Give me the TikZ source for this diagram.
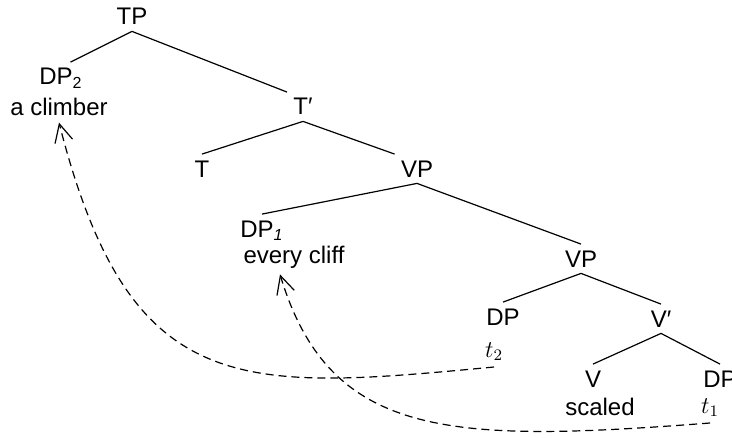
\documentclass[tikz,border=0pt]{standalone}
\usepackage{fontspec}
\setmainfont{Liberation Sans}
\usetikzlibrary{arrows.meta}

\begin{document}
\begin{tikzpicture}[
  x=0.5pt, y=-0.5pt,
  font=\fontsize{12}{14}\selectfont,
  n/.style={anchor=base, inner sep=3pt},
  e/.style={line width=0.6pt},
  mv/.style={line width=0.6pt, dash pattern=on 4pt off 2.5pt,
    -{Straight Barb[length=9pt,width=9pt]}}
]
\useasboundingbox (0,0) rectangle (732,438);
\clip (0,0) rectangle (732,438);

\node[n] (TP) at (132,25) {TP};
\node[n] (DP2) at (61,85) {DP\textsubscript{2}};
\node[n] (climber) at (59,116) {a climber};
\node[n] (Tbar) at (303,115) {T′};
\node[n] (T) at (202,177) {T};
\node[n] (VP1) at (417,177) {VP};
\node[n] (DP1) at (262,237) {DP\textsubscript{\itshape 1}};
\node[n] (cliff) at (294,263) {every cliff};
\node[n] (VP2) at (581,267) {VP};
\node[n] (DPa) at (503,325) {DP};
\node[n] (t2) at (494,357) {$t_2$};
\node[n] (Vbar) at (661,327) {V′};
\node[n] (V) at (593,387) {V};
\node[n] (scaled) at (600,415) {scaled};
\node[n] (DPb) at (720,387) {DP};
\node[n] (t1) at (710,413) {$t_1$};

% branches
\draw[e] (TP.south)--(DP2.60);
\draw[e] (TP.south)--(Tbar.north west);
\draw[e] (Tbar.south)--(T.north);
\draw[e] (Tbar.south)--(VP1.north west);
\draw[e] (VP1.south)--(DP1.north);
\draw[e] (VP1.south)--(VP2.north);
\draw[e] (VP2.south)--(DPa.north);
\draw[e] (VP2.south)--(Vbar.north);
\draw[e] (Vbar.south)--(V.north);
\draw[e] (Vbar.south)--(DPb.north);

% movement
\draw[mv] (t2.south) .. controls +(-254,24) and +(71,278) .. (climber.south);
\draw[mv] (t1.south) .. controls +(-260,20) and +(50,165) .. ([xshift=-7pt]cliff.south);
\end{tikzpicture}
\end{document}
